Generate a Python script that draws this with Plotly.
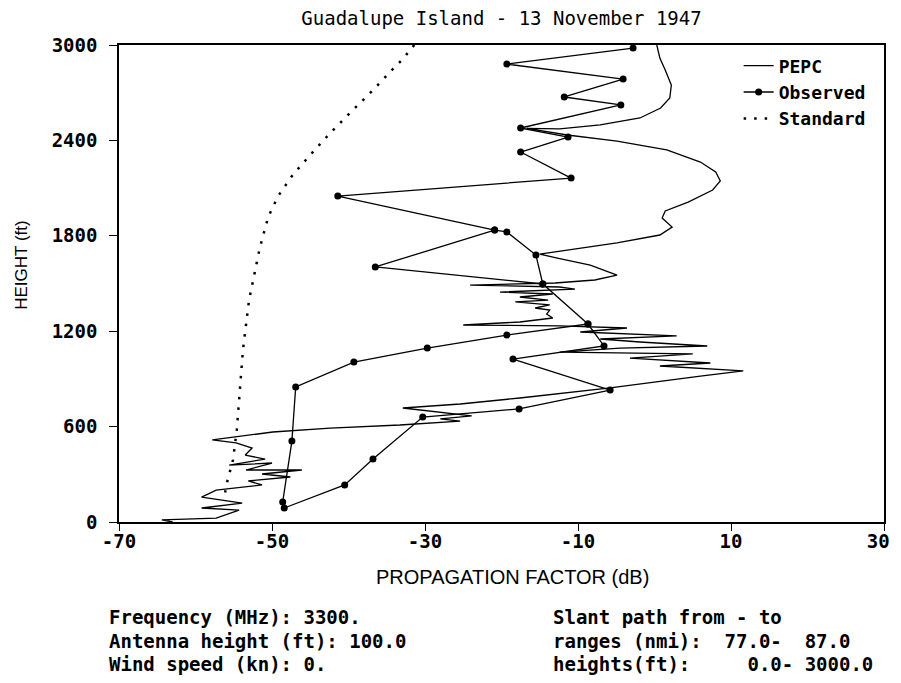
import plotly.graph_objects as go

# PEPC predicted propagation factor (dB) vs height (ft)
pepc_db = [0.3, 0.7, 1.4, 2.2, 2.0, 0.8, -1.9, -7.1, -12.4, -16.7,
           -11.4, -4.9, 1.6, 6.0, 8.0, 8.6, 7.6, 4.4, 1.4, 1.0,
           2.3, 0.7, -4.9, -11.4, -15.0, -12.7, -8.4, -4.9, -7.8, -13.0,
           -24.1, -12.4, -10.4, -20.2, -13.3, -17.6, -13.9, -18.2, -13.7, -15.6,
           -13.7, -14.1, -13.3, -17.6, -25.0, -12.4, -3.6, -9.7, 2.9, -7.1,
           -1.9, 6.9, -4.5, -12.4, 5.0, -3.2, 7.3, 0.7, 11.6,
           6.0, -0.6, -5.8, -17.6, -25.4, -32.9, -28.0, -23.9, -28.0, -25.4,
           -33.3, -42.4, -49.9, -57.8, -54.7, -52.6, -53.5, -50.9, -55.6, -50.0,
           -53.4, -46.1, -51.3, -47.6, -53.1, -51.3, -57.3, -59.2, -53.9, -59.2,
           -54.3, -56.0, -57.3, -64.4, -63.0]
pepc_ft = [3000, 2918, 2843, 2748, 2667, 2604, 2541, 2497, 2472, 2475,
           2434, 2396, 2340, 2264, 2201, 2145, 2088, 2012, 1956, 1912,
           1855, 1805, 1755, 1711, 1685, 1660, 1616, 1553, 1522, 1503,
           1490, 1478, 1465, 1446, 1434, 1415, 1396, 1384, 1365, 1346,
           1333, 1308, 1283, 1258, 1239, 1233, 1220, 1195, 1170, 1151,
           1132, 1107, 1094, 1069, 1057, 1031, 1000, 981, 950,
           918, 874, 843, 780, 742, 717, 692, 667, 648, 635,
           610, 591, 566, 516, 497, 465, 421, 396, 358, 371,
           327, 327, 302, 283, 258, 233, 201, 157, 119, 88,
           75, 44, 25, 13, 0]

# observed measurements, three flight legs
obs_a_db = [-48.6, -47.4, -46.9, -39.3, -29.7, -19.3, -8.7, -6.6, -18.5, -5.8, -17.7, -30.3, -36.8, -40.5, -48.4]
obs_a_ft = [126, 509, 849, 1006, 1094, 1176, 1245, 1107, 1025, 830, 711, 660, 396, 233, 88]
obs_b_db = [-8.7, -14.6, -36.5, -20.9, -41.4, -10.9, -17.5, -11.3, -17.5, -4.4, -11.8, -4.1, -19.3, -2.8]
obs_b_ft = [1245, 1497, 1604, 1836, 2050, 2163, 2327, 2421, 2478, 2623, 2673, 2786, 2880, 2981]
obs_c_db = [-14.6, -15.5, -19.3, -20.9]
obs_c_ft = [1497, 1679, 1824, 1836]

# standard atmosphere
std_db = [-31.4, -32.9, -34.2, -36.9, -39.7, -42.4, -44.9, -47.3, -49.2, -50.5,
          -51.6, -53.0, -53.8, -54.3, -54.6, -55.1, -55.8, -56.3]
std_ft = [3000, 2912, 2849, 2711, 2578, 2446, 2314, 2182, 2050, 1918,
          1723, 1396, 1082, 767, 579, 390, 264, 145]

x_ticks = [-70, -50, -30, -10, 10, 30]
y_ticks = [0, 600, 1200, 1800, 2400, 3000]

left_notes = ["Frequency (MHz): 3300.", "Antenna height (ft): 100.0", "Wind speed (kn): 0."]
right_notes = ["Slant path from - to", "ranges (nmi):  77.0-  87.0", "heights(ft):     0.0- 3000.0"]

MONO = "DejaVu Sans Mono"
mono_bold = dict(family=MONO, size=19, color='black', weight='bold')

obs_db = obs_a_db + [None] + obs_b_db + [None] + obs_c_db
obs_ft = obs_a_ft + [None] + obs_b_ft + [None] + obs_c_ft

# last x label nudged left so it stays inside the page edge
x_labels = [str(v) for v in x_ticks]
x_labels[-1] = x_labels[-1] + '&nbsp;'

fig = go.Figure()
fig.add_trace(go.Scatter(x=pepc_db, y=pepc_ft, mode='lines', name='PEPC',
                         line=dict(color='black', width=1.3)))
fig.add_trace(go.Scatter(x=obs_db, y=obs_ft, mode='lines+markers', name='Observed',
                         line=dict(color='black', width=1.3),
                         marker=dict(color='black', size=7)))
fig.add_trace(go.Scatter(x=std_db, y=std_ft, mode='lines', name='Standard',
                         line=dict(color='black', width=2.5, dash='2.5px,8px')))

fig.update_xaxes(range=[-70, 30], tickvals=x_ticks, ticktext=x_labels,
                 showgrid=False, zeroline=False, showline=True, mirror=True, automargin=False,
                 linecolor='black', linewidth=1.5, ticks='outside', ticklen=7,
                 tickcolor='black', tickfont=mono_bold, ticklabelstandoff=-6,
                 ticklabeloverflow='allow')
fig.update_yaxes(range=[0, 3000], tickvals=y_ticks, ticktext=[str(v) for v in y_ticks],
                 showgrid=False, zeroline=False, showline=True, mirror=True, automargin=False,
                 linecolor='black', linewidth=1.5, ticks='outside', ticklen=8,
                 tickcolor='black', tickfont=mono_bold, ticklabelstandoff=8)

annotations = [
    dict(text='PROPAGATION FACTOR (dB)', x=0.514, y=-0.115, xref='paper', yref='paper',
         xanchor='center', yanchor='middle', showarrow=False,
         font=dict(family='Liberation Sans', size=20, color='black')),
    dict(text='HEIGHT (ft)', x=-0.127, y=0.539, xref='paper', yref='paper', textangle=-90,
         xanchor='center', yanchor='middle', showarrow=False,
         font=dict(family='Liberation Sans', size=17, color='black')),
]
rows_y = [-0.199, -0.2495, -0.2977]
for txt, yy in zip(left_notes, rows_y):
    annotations.append(dict(text=txt, x=-0.0157, y=yy, xref='paper', yref='paper',
                            xanchor='left', yanchor='middle', showarrow=False, font=mono_bold))
for txt, yy in zip(right_notes, rows_y):
    annotations.append(dict(text=txt.replace(' ', '&nbsp;'), x=0.5647, y=yy, xref='paper', yref='paper',
                            xanchor='left', yanchor='middle', showarrow=False, font=mono_bold))

# the page body has an 8px margin, so the figure is sized to fit the window without scrollbars
fig.update_layout(
    width=885, height=667,
    margin=dict(l=111, r=9, t=37, b=153),
    paper_bgcolor='white', plot_bgcolor='white',
    title=dict(text='Guadalupe Island - 13 November 1947', x=0.5, xref='paper',
               y=1 - 10 / 667, yanchor='middle',
               font=dict(family=MONO, size=19, color='black')),
    legend=dict(x=0.81, y=0.995, xanchor='left', yanchor='top', bgcolor='rgba(0,0,0,0)',
                font=dict(family=MONO, size=18, color='black', weight='bold'),
                tracegroupgap=0),
    annotations=annotations,
    showlegend=True,
)

fig.write_html("out.html")
